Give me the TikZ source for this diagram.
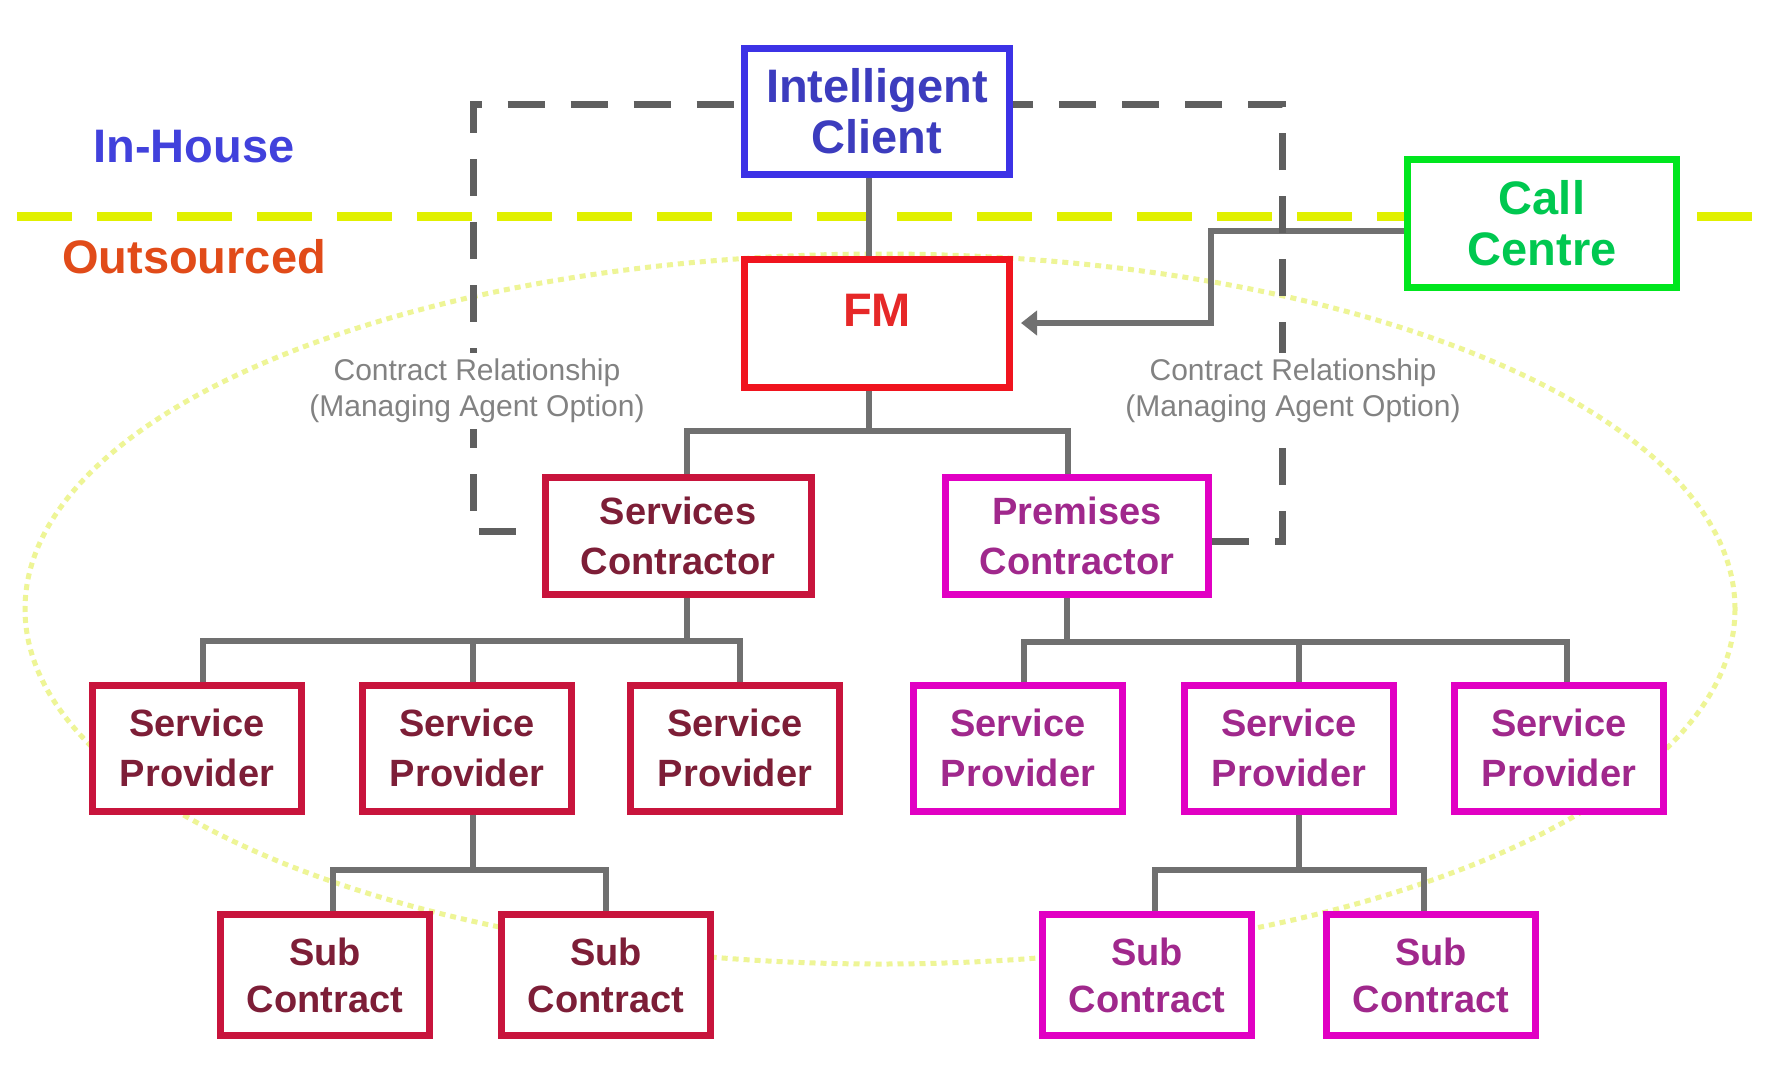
\documentclass[tikz,border=0pt]{standalone}
\usepackage{fontspec}
\setmainfont{Liberation Sans}
\usetikzlibrary{arrows.meta}
\definecolor{icblue}{RGB}{60,50,230}
\definecolor{ictext}{RGB}{60,60,190}
\definecolor{fmred}{RGB}{240,20,30}
\definecolor{fmtext}{RGB}{230,40,40}
\definecolor{ccgreen}{RGB}{0,230,30}
\definecolor{cctext}{RGB}{0,200,80}
\definecolor{crim}{RGB}{200,20,60}
\definecolor{crimtext}{RGB}{125,30,55}
\definecolor{mag}{RGB}{225,0,195}
\definecolor{magtext}{RGB}{160,40,140}
\definecolor{conngray}{RGB}{112,112,112}
\definecolor{relgray}{RGB}{95,95,95}
\definecolor{sepyellow}{RGB}{225,240,0}
\definecolor{ellyellow}{RGB}{238,245,150}
\definecolor{ihblue}{RGB}{65,65,220}
\definecolor{osorange}{RGB}{225,75,25}
\definecolor{lblgray}{RGB}{130,130,130}
\begin{document}
\begin{tikzpicture}[x=1pt,y=-1pt,
  box/.style={draw, fill=white, line width=7pt, inner sep=0pt, align=center},
  bigbox/.style={box, minimum width=265pt, minimum height=126pt, font=\fontsize{47}{51}\selectfont\bfseries},
  midbox/.style={box, minimum width=266pt, minimum height=117pt, font=\fontsize{38}{50}\selectfont\bfseries},
  spbox/.style={box, minimum width=209pt, minimum height=126pt, font=\fontsize{38}{50}\selectfont\bfseries},
  subbox/.style={box, minimum width=209pt, minimum height=121pt, font=\fontsize{38}{47}\selectfont\bfseries},
  crimson/.style={draw=crim, text=crimtext},
  magenta/.style={draw=mag, text=magtext},
  conn/.style={draw=conngray, line width=6pt},
  relline/.style={draw=relgray, line width=7pt, dash pattern=on 37pt off 26pt},
  sepline/.style={draw=sepyellow, line width=9pt, dash pattern=on 55pt off 25pt},
  ellline/.style={draw=ellyellow, line width=5pt, dash pattern=on 6pt off 5pt},
  zone/.style={font=\fontsize{47}{52}\selectfont\bfseries, inner sep=2pt},
  rellabel/.style={fill=white, text=lblgray, align=center, inner sep=6pt, font=\fontsize{30}{36}\selectfont}
]
\useasboundingbox (0,0) rectangle (1768,1077);
\fill[white] (0,0) rectangle (1768,1077);

% background marks
\draw[ellline] (880,609) ellipse [x radius=855, y radius=355];
\draw[sepline] (17,216) -- (1752,216);

% zone labels
\node[zone, text=ihblue] (inhouse) at (194,147) {In-House};
\node[zone, text=osorange] (outsourced) at (194,257) {Outsourced};

% boxes
\node[bigbox, draw=icblue, text=ictext] (ic) at (877,111) {Intelligent\\Client};
\node[bigbox, draw=fmred, text=fmtext, minimum height=128pt] (fm) at (877,323) {\raisebox{26pt}{FM}};
\node[bigbox, draw=ccgreen, text=cctext, minimum width=269pt, minimum height=128pt] (cc) at (1542,223) {Call\\Centre};

\node[midbox, crimson] (sc) at (678,536) {Services\\Contractor};
\node[midbox, magenta, minimum width=263pt] (pc) at (1077,536) {Premises\\Contractor};

\node[spbox, crimson] (sp1) at (197,748) {Service\\Provider};
\node[spbox, crimson] (sp2) at (467,748) {Service\\Provider};
\node[spbox, crimson] (sp3) at (735,748) {Service\\Provider};
\node[spbox, magenta] (sp4) at (1018,748) {Service\\Provider};
\node[spbox, magenta] (sp5) at (1289,748) {Service\\Provider};
\node[spbox, magenta] (sp6) at (1559,748) {Service\\Provider};

\node[subbox, crimson] (sb1) at (325,975) {Sub\\Contract};
\node[subbox, crimson] (sb2) at (606,975) {Sub\\Contract};
\node[subbox, magenta] (sb3) at (1147,975) {Sub\\Contract};
\node[subbox, magenta] (sb4) at (1431,975) {Sub\\Contract};

% junctions
\coordinate (j1) at (869,431);
\coordinate (j2) at (687,641);
\coordinate (j3) at (1067,642);
\coordinate (j4) at (473,870);
\coordinate (j5) at (1299,870);
\coordinate (ccbend) at (1211,0);
\coordinate (dl) at (473,104);
\coordinate (dr) at (1282,104);

% connectors
\draw[conn] ([xshift=-8pt]ic.south) -- ([xshift=-8pt]fm.north);
\draw[conn] ([xshift=-8pt]fm.south) -- (j1);
\draw[conn] ([xshift=9pt]sc.north) |- (j1) -| ([xshift=-9pt]pc.north);
\draw[conn] (sc.south -| j2) -- (j2);
\draw[conn] ([xshift=6pt]sp1.north) |- (j2) -| ([xshift=5pt]sp3.north);
\draw[conn] (sp2.north -| j4) -- (j4 |- j2);
\draw[conn] (pc.south -| j3) -- (j3);
\draw[conn] ([xshift=6pt]sp4.north) |- (j3) -| ([xshift=8pt]sp6.north);
\draw[conn] (sp5.north -| j5) -- (j5 |- j3);
\draw[conn] (sp2.south -| j4) -- (j4);
\draw[conn] ([xshift=8pt]sb1.north) |- (j4) -| (sb2.north);
\draw[conn] (sp5.south -| j5) -- (j5);
\draw[conn] ([xshift=8pt]sb3.north) |- (j5) -| ([xshift=-7pt]sb4.north);
\draw[conn, -{Triangle[length=16pt,width=24pt]}, shorten >=8pt] ([yshift=-8pt]cc.west) -| (ccbend |- fm.east) -- (fm.east);

% contract relationship (managing agent option)
\draw[relline, dash phase=37pt] ([yshift=5pt]sc.west) -| (dl) -- (ic.west |- dl);
\draw[relline] ([yshift=-5pt]pc.east) -| (dr) -- (ic.east |- dr);
\node[rellabel] (rl) at (477,391) {Contract Relationship\\(Managing Agent Option)};
\node[rellabel] (rr) at (1293,391) {Contract Relationship\\(Managing Agent Option)};
\end{tikzpicture}
\end{document}
